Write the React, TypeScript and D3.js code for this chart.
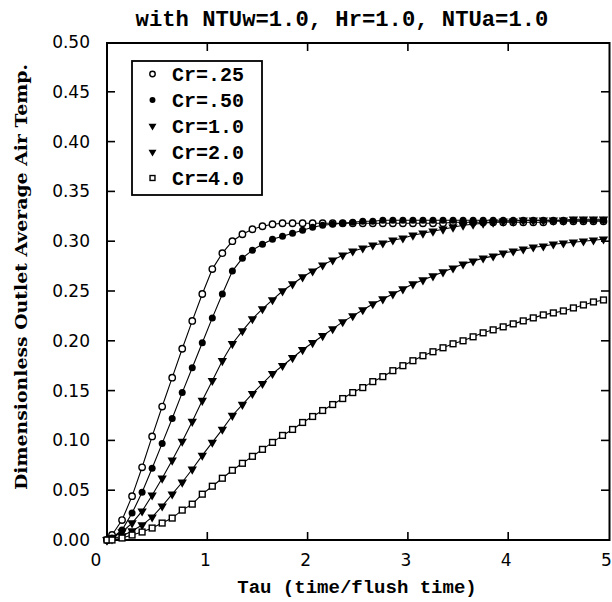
import React from "react";
import * as d3 from "d3";

const tau = [0, 0.05, 0.15, 0.25, 0.35, 0.45, 0.55, 0.65, 0.75, 0.85, 0.95,
  1.05, 1.15, 1.25, 1.35, 1.45, 1.55, 1.65, 1.75, 1.85, 1.95,
  2.05, 2.15, 2.25, 2.35, 2.45, 2.55, 2.65, 2.75, 2.85, 2.95,
  3.05, 3.15, 3.25, 3.35, 3.45, 3.55, 3.65, 3.75, 3.85, 3.95,
  4.05, 4.15, 4.25, 4.35, 4.45, 4.55, 4.65, 4.75, 4.85, 4.95];

const cr025 = [0, 0.005, 0.020, 0.044, 0.073, 0.104, 0.134, 0.163, 0.192, 0.220, 0.247,
  0.272, 0.288, 0.300, 0.307, 0.312, 0.315, 0.317, 0.318, 0.318, 0.318,
  0.318, 0.318, 0.318, 0.318, 0.318, 0.318, 0.318, 0.318, 0.318, 0.318,
  0.318, 0.318, 0.318, 0.318, 0.319, 0.319, 0.319, 0.319, 0.319, 0.319,
  0.319, 0.319, 0.319, 0.319, 0.320, 0.320, 0.320, 0.320, 0.320, 0.320];

const cr050 = [0, 0.002, 0.010, 0.027, 0.048, 0.072, 0.097, 0.122, 0.148, 0.173, 0.198,
  0.223, 0.247, 0.270, 0.283, 0.291, 0.297, 0.302, 0.305, 0.308, 0.311,
  0.314, 0.316, 0.317, 0.318, 0.319, 0.320, 0.320, 0.321, 0.321, 0.321,
  0.321, 0.321, 0.321, 0.321, 0.321, 0.321, 0.321, 0.321, 0.321, 0.321,
  0.321, 0.321, 0.321, 0.321, 0.321, 0.321, 0.321, 0.321, 0.321, 0.321];

const cr10 = [0, 0.002, 0.008, 0.017, 0.029, 0.045, 0.062, 0.080, 0.099, 0.119, 0.140,
  0.160, 0.180, 0.197, 0.210, 0.222, 0.232, 0.241, 0.250, 0.257, 0.264,
  0.270, 0.276, 0.281, 0.286, 0.290, 0.293, 0.296, 0.298, 0.301, 0.303,
  0.306, 0.308, 0.310, 0.312, 0.314, 0.316, 0.317, 0.318, 0.319, 0.320,
  0.320, 0.321, 0.321, 0.321, 0.321, 0.321, 0.322, 0.322, 0.322, 0.322];

const cr20 = [0, 0.001, 0.004, 0.009, 0.015, 0.023, 0.034, 0.046, 0.058, 0.071, 0.085,
  0.098, 0.111, 0.125, 0.136, 0.147, 0.157, 0.167, 0.175, 0.183, 0.191,
  0.198, 0.205, 0.212, 0.219, 0.225, 0.231, 0.237, 0.242, 0.247, 0.252,
  0.257, 0.261, 0.265, 0.269, 0.273, 0.277, 0.280, 0.283, 0.285, 0.288,
  0.290, 0.292, 0.294, 0.295, 0.297, 0.298, 0.299, 0.300, 0.301, 0.302];

const cr40 = [0, 0.000, 0.002, 0.005, 0.008, 0.012, 0.017, 0.022, 0.030, 0.036, 0.046,
  0.054, 0.062, 0.070, 0.077, 0.084, 0.091, 0.098, 0.105, 0.111, 0.118,
  0.124, 0.130, 0.136, 0.142, 0.148, 0.153, 0.159, 0.164, 0.170, 0.175,
  0.180, 0.185, 0.189, 0.193, 0.197, 0.200, 0.204, 0.208, 0.211, 0.214,
  0.217, 0.220, 0.223, 0.226, 0.228, 0.230, 0.233, 0.236, 0.239, 0.241];

const seriesNames = ["Cr=.25", "Cr=.50", "Cr=1.0", "Cr=2.0", "Cr=4.0"];
const seriesValues = [cr025, cr050, cr10, cr20, cr40];
const seriesMarkers = ["openCircle", "filledCircle", "triangle", "triangle", "openSquare"];

const xTicks = [0, 1, 2, 3, 4, 5];
const yTicks = [0, 0.05, 0.1, 0.15, 0.2, 0.25, 0.3, 0.35, 0.4, 0.45, 0.5];

const title = "with NTUw=1.0, Hr=1.0, NTUa=1.0";
const xLabel = "Tau (time/flush time)";
const yLabel = "Dimensionless Outlet Average Air Temp.";

const W = 612, H = 602;
const x = d3.scaleLinear().domain([0, 5]).range([107, 608.5]);
const y = d3.scaleLinear().domain([0, 0.5]).range([540, 42]);

const MONO = "'Liberation Mono', 'DejaVu Sans Mono', monospace";

function Marker({ kind, cx, cy, s = 1 }: { kind: string; cx: number; cy: number; s?: number }) {
  if (kind === "openCircle")
    return <circle cx={cx} cy={cy} r={3.2 * s} fill="white" stroke="black" strokeWidth={1.4} />;
  if (kind === "filledCircle")
    return <circle cx={cx} cy={cy} r={3.5 * s} fill="black" />;
  if (kind === "triangle") {
    const p = d3.symbol().type(d3.symbolTriangle).size(38 * s * s)();
    return <path d={p || ""} transform={`translate(${cx},${cy}) rotate(180)`} fill="black" />;
  }
  const a = 2.9 * s;
  return <rect x={cx - a} y={cy - a} width={2 * a} height={2 * a} fill="white" stroke="black" strokeWidth={1.4} />;
}

export default function App() {
  const line = d3.line<number>().x((_, i) => x(tau[i])).y((v) => y(v));
  const legendRows = [74, 100, 126, 152, 178];
  return (
    <svg width={W} height={H} style={{ position: "absolute", left: 0, top: 0, background: "white" }}>
      <rect x={0} y={0} width={W} height={H} fill="white" />
      {/* title */}
      <text x={342} y={26} textAnchor="middle" fontFamily={MONO} fontWeight="bold" fontSize={22.2}>{title}</text>

      {/* frame */}
      <rect x={107} y={43} width={502.5} height={497} fill="none" stroke="black" strokeWidth={2} />

      {/* y ticks left/right */}
      {yTicks.map((t) => (
        <g key={"y" + t}>
          {t > 0 && t < 0.5 && <line x1={107} x2={115} y1={y(t)} y2={y(t)} stroke="black" strokeWidth={1.6} />}
          {t > 0 && t < 0.5 && <line x1={601} x2={609.5} y1={y(t)} y2={y(t)} stroke="black" strokeWidth={1.6} />}
          <text x={90} y={y(t) + 6} textAnchor="end" fontFamily="'DejaVu Sans', sans-serif" fontSize={17}>{t.toFixed(2)}</text>
        </g>
      ))}

      {/* x ticks */}
      {xTicks.map((t) => (
        <g key={"x" + t}>
          {t > 0 && t < 5 && <line x1={x(t)} x2={x(t)} y1={540} y2={532} stroke="black" strokeWidth={1.6} />}
          {t > 0 && t < 5 && <line x1={x(t)} x2={x(t)} y1={43} y2={51} stroke="black" strokeWidth={1.6} />}
          <text x={t === 0 ? x(t) - 11 : x(t) - 2} y={566} textAnchor="middle" fontFamily="'DejaVu Sans', sans-serif" fontSize={17}>{t}</text>
        </g>
      ))}

      {/* axis labels */}
      <text x={357} y={593} textAnchor="middle" fontFamily={MONO} fontWeight="bold" fontSize={19}>{xLabel}</text>
      <text transform="translate(27,277) rotate(-90)" textAnchor="middle" fontFamily="'DejaVu Serif', serif" fontWeight="bold" fontSize={17}
        textLength={426} lengthAdjust="spacingAndGlyphs">{yLabel}</text>

      {/* series */}
      {seriesValues.map((vals, si) => (
        <g key={"s" + si}>
          <path d={line(vals) || ""} fill="none" stroke="black" strokeWidth={1.1} />
          {vals.map((v, i) => (
            <Marker key={i} kind={seriesMarkers[si]} cx={x(tau[i])} cy={y(v)} />
          ))}
        </g>
      ))}

      {/* legend */}
      <rect x={132} y={61} width={130} height={134} fill="white" stroke="black" strokeWidth={1.8} />
      {seriesNames.map((n, i) => (
        <g key={"l" + i}>
          <Marker kind={seriesMarkers[i]} cx={152.5} cy={legendRows[i]} s={0.85} />
          <text x={172} y={legendRows[i] + 7} fontFamily={MONO} fontWeight="bold" fontSize={20}>{n}</text>
        </g>
      ))}
    </svg>
  );
}
